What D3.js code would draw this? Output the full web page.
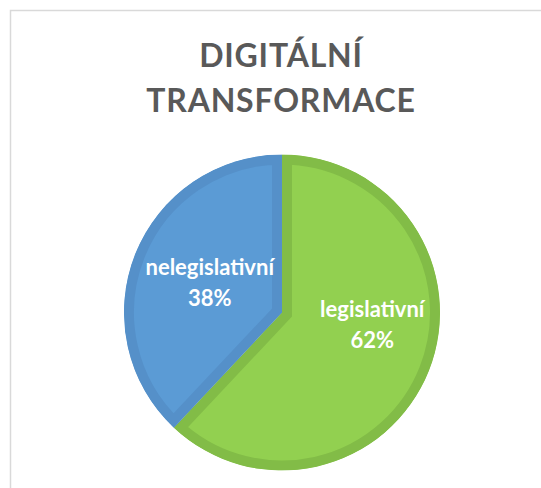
<!DOCTYPE html>
<html><head><meta charset="utf-8">
<script src="https://cdn.jsdelivr.net/npm/d3@7"></script>
<style>html,body{margin:0;padding:0;background:#fff;}svg{display:block;}</style>
</head><body>
<script>
const titleLines = ["DIGITÁLNÍ", "TRANSFORMACE"];
const categories = ["legislativní", "nelegislativní"];
const values = [62, 38];
const percentLabels = ["62%", "38%"];
const fillColors = ["#92D050", "#5B9BD5"];
const strokeColors = ["#82BC47", "#5590C9"];

const W = 541, H = 488;
const svg = d3.select("body").append("svg").attr("width", W).attr("height", H);
svg.append("rect").attr("width", W).attr("height", H).attr("fill", "#fff");
svg.append("rect").attr("x", 10.5).attr("y", 10.5).attr("width", W + 20).attr("height", H + 20)
  .attr("fill", "none").attr("stroke", "#d9d9d9").attr("stroke-width", 1.5);

const font = "Lato, 'Open Sans', sans-serif";
svg.selectAll("text.title").data(titleLines).enter().append("text")
  .attr("class", "title")
  .attr("x", 281).attr("y", (d, i) => 67 + i * 45)
  .attr("text-anchor", "middle")
  .attr("font-family", font).attr("font-weight", 700).attr("font-size", 32)
  .attr("fill", "#595959").attr("letter-spacing", 0.8)
  .text(d => d);

const cx = 282, cy = 312.5, R = 158;
const pie = d3.pie().sort(null).value(d => d)(values);
const arc = d3.arc().innerRadius(0).outerRadius(R);
const g = svg.append("g").attr("transform", `translate(${cx},${cy})`);
const defs = svg.append("defs");
pie.forEach((p, i) => {
  defs.append("clipPath").attr("id", "clip" + i).append("path").attr("d", arc(p));
});
g.selectAll("path.slice").data(pie).enter().append("path")
  .attr("class", "slice")
  .attr("d", arc)
  .attr("fill", (d, i) => fillColors[i])
  .attr("stroke", (d, i) => strokeColors[i])
  .attr("stroke-width", 20)
  .attr("stroke-linejoin", "miter")
  .attr("clip-path", (d, i) => `url(#clip${i})`);

// label placement: centroid on a label ring, adjusted per slice
const labelArc = d3.arc().innerRadius(R * 0.56).outerRadius(R * 0.56);
const labelShift = [[8, -23], [10, 0]];
pie.forEach((p, i) => {
  const c = labelArc.centroid(p);
  const x = c[0] + labelShift[i][0], y = c[1] + labelShift[i][1];
  const t = g.append("text").attr("text-anchor", "middle")
    .attr("font-family", font).attr("font-weight", 700).attr("font-size", 22)
    .attr("fill", "#fff");
  t.append("tspan").attr("x", x).attr("y", y - 5).text(categories[i]);
  t.append("tspan").attr("x", x).attr("y", y + 26).text(percentLabels[i]);
});
</script>
</body></html>
